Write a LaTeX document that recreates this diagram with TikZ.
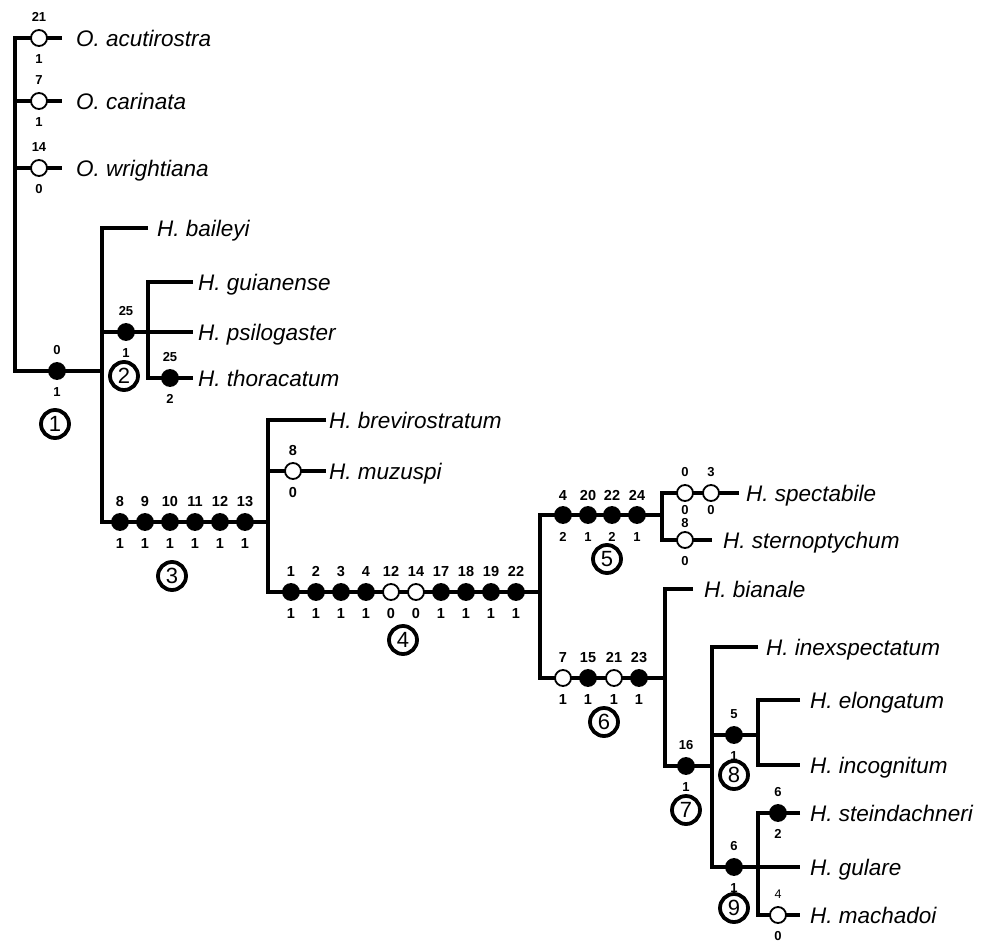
\documentclass[tikz,border=0pt]{standalone}
\usepackage{fontspec}
\setmainfont{Liberation Sans}
\tikzset{
  br/.style={line width=4.2pt, line join=miter},
  fc/.style={circle, draw=black, fill=black, line width=1.8pt, minimum size=16pt, inner sep=0pt, outer sep=0pt},
  oc/.style={circle, draw=black, fill=white, line width=1.8pt, minimum size=16pt, inner sep=0pt, outer sep=0pt},
  num/.style={font=\fontsize{14.5}{14.5}\selectfont\bfseries, text height=10.4pt, text depth=0pt, inner sep=0pt},
  nums/.style={font=\fontsize{13}{13}\selectfont\bfseries, text height=9.3pt, text depth=0pt, inner sep=0pt},
  numl/.style={font=\fontsize{12.5}{12.5}\selectfont, text height=9pt, text depth=0pt, inner sep=0pt},
  taxon/.style={font=\fontsize{22.5}{24}\selectfont\itshape, anchor=west, text height=16.1pt, text depth=0pt, inner sep=0pt},
  clade/.style={circle, draw=black, line width=3.8pt, minimum size=28pt, inner sep=0pt, font=\fontsize{22}{22}\selectfont, text height=15.8pt, text depth=0pt}
}
\newcommand\chr[7][num]{%
  \node[#3] (#2) at (#4,#5) {};
  \node[#1] (#2t) at ([yshift=21pt]#2.center) {#6};
  \node[#1] (#2b) at ([yshift=-21pt]#2.center) {#7};
}
\begin{document}
\begin{tikzpicture}[x=1pt,y=-1pt]
\useasboundingbox (0,0) rectangle (988,945);
% ---------- junction coordinates
\coordinate (R0) at (15,38);
\coordinate (rC) at (15,101);
\coordinate (rW) at (15,168);
\coordinate (R1) at (15,371);
\coordinate (eA) at (62,38);
\coordinate (eC) at (62,101);
\coordinate (eW) at (62,168);
\coordinate (H0) at (102,228);
\coordinate (H2) at (102,332);
\coordinate (H1) at (102,371);
\coordinate (H3) at (102,522);
\coordinate (eBai) at (148,228);
\coordinate (G0) at (148,282);
\coordinate (G1) at (148,332);
\coordinate (G2) at (148,378);
\coordinate (eGui) at (193,282);
\coordinate (ePsi) at (193,332);
\coordinate (eTho) at (193,378);
\coordinate (B0) at (268,420);
\coordinate (B1) at (268,471);
\coordinate (B2) at (268,522);
\coordinate (B3) at (268,592);
\coordinate (eBre) at (326,420);
\coordinate (eMuz) at (326,471);
\coordinate (C0) at (540,515);
\coordinate (C1) at (540,592);
\coordinate (C2) at (540,678);
\coordinate (S0) at (662,493);
\coordinate (S1) at (662,515);
\coordinate (S2) at (662,540);
\coordinate (eSpe) at (739,493);
\coordinate (eStn) at (712,540);
\coordinate (D0) at (665,589);
\coordinate (D1) at (665,678);
\coordinate (D2) at (665,766);
\coordinate (eBia) at (693,589);
\coordinate (E0) at (712,647);
\coordinate (E1) at (712,735);
\coordinate (E2) at (712,766);
\coordinate (E3) at (712,867);
\coordinate (eIne) at (758,647);
\coordinate (F0) at (758,700);
\coordinate (F1) at (758,735);
\coordinate (F2) at (758,765);
\coordinate (eElo) at (800,700);
\coordinate (eInc) at (800,765);
\coordinate (K0) at (758,813);
\coordinate (K1) at (758,867);
\coordinate (K2) at (758,915);
\coordinate (eSti) at (800,813);
\coordinate (eGul) at (800,867);
\coordinate (eMac) at (800,915);
% ---------- branches
\draw[br] (eA) -- (R0) -- (R1) -- (H1);
\draw[br] (rC) -- (eC);
\draw[br] (rW) -- (eW);
\draw[br] (eBai) -- (H0) -- (H3) -- (B2);
\draw[br] (H2) -- (ePsi);
\draw[br] (eGui) -- (G0) -- (G2) -- (eTho);
\draw[br] (eBre) -- (B0) -- (B3) -- (C1);
\draw[br] (B1) -- (eMuz);
\draw[br] (S1) -- (C0) -- (C2) -- (D1);
\draw[br] (eSpe) -- (S0) -- (S2) -- (eStn);
\draw[br] (eBia) -- (D0) -- (D2) -- (E2);
\draw[br] (eIne) -- (E0) -- (E3) -- (eGul);
\draw[br] (E1) -- (F1);
\draw[br] (eElo) -- (F0) -- (F2) -- (eInc);
\draw[br] (eSti) -- (K0) -- (K2) -- (eMac);
% ---------- character states
\chr[nums]{cA}{oc}{39}{38}{21}{1}
\chr[nums]{cC}{oc}{39}{101}{7}{1}
\chr[nums]{cW}{oc}{39}{168}{14}{0}
\chr[nums]{cR}{fc}{57}{371}{0}{1}
\chr[nums]{cP}{fc}{126}{332}{25}{1}
\chr[nums]{cT}{fc}{170}{378}{25}{2}
\chr{c3a}{fc}{120}{522}{8}{1}
\chr{c3b}{fc}{145}{522}{9}{1}
\chr{c3c}{fc}{170}{522}{10}{1}
\chr{c3d}{fc}{195}{522}{11}{1}
\chr{c3e}{fc}{220}{522}{12}{1}
\chr{c3f}{fc}{245}{522}{13}{1}
\chr{cM}{oc}{293}{471}{8}{0}
\chr{c4a}{fc}{291}{592}{1}{1}
\chr{c4b}{fc}{316}{592}{2}{1}
\chr{c4c}{fc}{341}{592}{3}{1}
\chr{c4d}{fc}{366}{592}{4}{1}
\chr{c4e}{oc}{391}{592}{12}{0}
\chr{c4f}{oc}{416}{592}{14}{0}
\chr{c4g}{fc}{441}{592}{17}{1}
\chr{c4h}{fc}{466}{592}{18}{1}
\chr{c4i}{fc}{491}{592}{19}{1}
\chr{c4j}{fc}{516}{592}{22}{1}
\node[fc] (c5a) at (563,515) {};
\node[num] (c5at) at ([yshift=20pt]c5a.center) {4};
\node[nums] (c5ab) at ([yshift=-22pt]c5a.center) {2};
\node[fc] (c5b) at (588,515) {};
\node[num] (c5bt) at ([yshift=20pt]c5b.center) {20};
\node[nums] (c5bb) at ([yshift=-22pt]c5b.center) {1};
\node[fc] (c5c) at (612,515) {};
\node[num] (c5ct) at ([yshift=20pt]c5c.center) {22};
\node[nums] (c5cb) at ([yshift=-22pt]c5c.center) {2};
\node[fc] (c5d) at (637,515) {};
\node[num] (c5dt) at ([yshift=20pt]c5d.center) {24};
\node[nums] (c5db) at ([yshift=-22pt]c5d.center) {1};
% spectabile / sternoptychum (crowded labels)
\node[oc] (cSa) at (685,493) {};
\node[nums] (cSat) at ([yshift=21pt]cSa.center) {0};
\node[nums] (cSab) at ([yshift=-17pt]cSa.center) {0};
\node[oc] (cSb) at (711,493) {};
\node[nums] (cSbt) at ([yshift=21pt]cSb.center) {3};
\node[nums] (cSbb) at ([yshift=-17pt]cSb.center) {0};
\node[oc] (cSc) at (685,540) {};
\node[nums] (cSct) at ([yshift=17pt]cSc.center) {8};
\node[nums] (cScb) at ([yshift=-21pt]cSc.center) {0};
\chr{c6a}{oc}{563}{678}{7}{1}
\chr{c6b}{fc}{588}{678}{15}{1}
\chr{c6c}{oc}{614}{678}{21}{1}
\chr{c6d}{fc}{639}{678}{23}{1}
\chr[nums]{c7}{fc}{686}{766}{16}{1}
\chr[nums]{c8}{fc}{734}{735}{5}{1}
\chr[nums]{c9}{fc}{734}{867}{6}{1}
\chr[nums]{cSt}{fc}{778}{813}{6}{2}
\node[oc] (cMa) at (778,915) {};
\node[numl] (cMat) at ([yshift=21pt]cMa.center) {4};
\node[nums] (cMab) at ([yshift=-21pt]cMa.center) {0};
% ---------- clade numbers
\node[clade] (k1) at (55,424) {1};
\node[clade] (k2) at (124,376) {2};
\node[clade] (k3) at (172,576) {3};
\node[clade] (k4) at (403,640) {4};
\node[clade] (k5) at (607,559) {5};
\node[clade] (k6) at (604,722) {6};
\node[clade] (k7) at (686,810) {7};
\node[clade] (k8) at (734,775) {8};
\node[clade] (k9) at (734,908) {9};
% ---------- taxa
\node[taxon] (nAcu) at (76,38) {O. acutirostra};
\node[taxon] (nCar) at (76,101) {O. carinata};
\node[taxon] (nWri) at (76,168) {O. wrightiana};
\node[taxon] (nBai) at (157,228) {H. baileyi};
\node[taxon] (nGui) at (198,282) {H. guianense};
\node[taxon] (nPsi) at (198,332) {H. psilogaster};
\node[taxon] (nTho) at (198,378) {H. thoracatum};
\node[taxon] (nBre) at (329,420) {H. brevirostratum};
\node[taxon] (nMuz) at (329,471) {H. muzuspi};
\node[taxon] (nSpe) at (746,493) {H. spectabile};
\node[taxon] (nStn) at (723,540) {H. sternoptychum};
\node[taxon] (nBia) at (704,589) {H. bianale};
\node[taxon] (nIne) at (766,647) {H. inexspectatum};
\node[taxon] (nElo) at (810,700) {H. elongatum};
\node[taxon] (nInc) at (810,765) {H. incognitum};
\node[taxon] (nSti) at (810,813) {H. steindachneri};
\node[taxon] (nGul) at (810,867) {H. gulare};
\node[taxon] (nMac) at (810,915) {H. machadoi};
\end{tikzpicture}
\end{document}
